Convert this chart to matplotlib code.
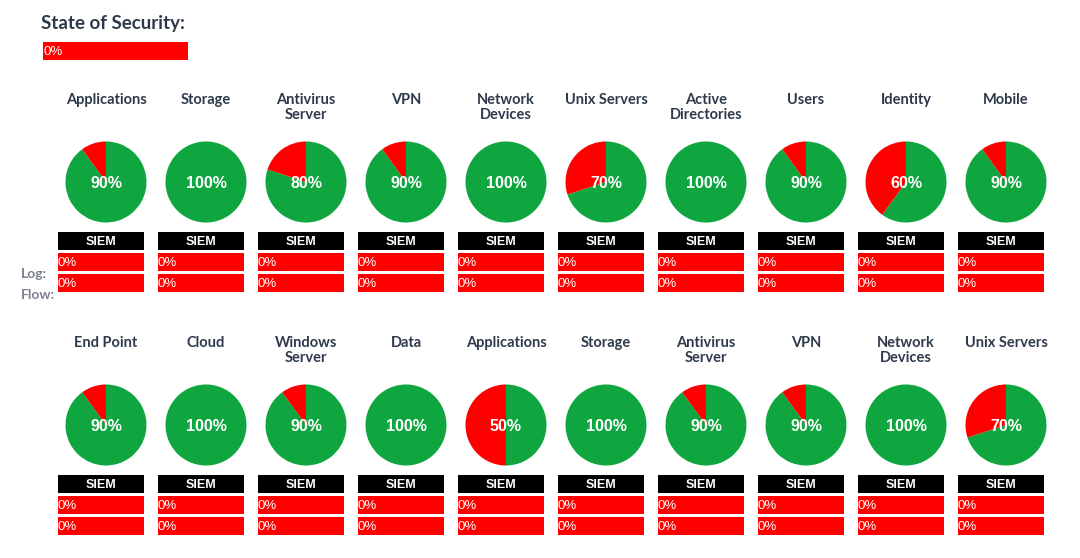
import matplotlib.pyplot as plt

# Datos del tablero
fila1_nombres = ["Applications", "Storage", "Antivirus\nServer", "VPN", "Network\nDevices",
                 "Unix Servers", "Active\nDirectories", "Users", "Identity", "Mobile"]
fila1_valores = [90, 100, 80, 90, 100, 70, 100, 90, 60, 90]
fila2_nombres = ["End Point", "Cloud", "Windows\nServer", "Data", "Applications",
                 "Storage", "Antivirus\nServer", "VPN", "Network\nDevices", "Unix Servers"]
fila2_valores = [90, 100, 90, 100, 50, 100, 90, 90, 100, 70]
log_valores = [0] * 10
flow_valores = [0] * 10
estado_total = 0

VERDE = "#0fa640"
ROJO = "#ff0000"
TXT = "#2e3a4b"
W, H = 1080, 558

fig = plt.figure(figsize=(W / 100, H / 100), dpi=100)
bg = fig.add_axes([0, 0, 1, 1])
bg.set_xlim(0, W)
bg.set_ylim(H, 0)
bg.axis("off")

bg.text(41, 23, "State of Security:", fontsize=13.5, fontweight="bold", color=TXT,
        family="Lato", va="center", ha="left")
bg.barh(51, 145, left=43, height=18, color=ROJO)
bg.text(43, 52, f"{estado_total}%", fontsize=9.5, color="white", family="Liberation Sans",
        va="center", ha="left")

bg.text(21, 274, "Log:", fontsize=10, fontweight="bold", color="#7b8190", family="Lato",
        va="center", ha="left")
bg.text(21, 295, "Flow:", fontsize=10, fontweight="bold", color="#7b8190", family="Lato",
        va="center", ha="left")


def fila(nombres, valores, y_titulo, y_pie, y_siem):
    for i, (nom, val) in enumerate(zip(nombres, valores)):
        cx = 106 + 100 * i
        bg.text(cx, y_titulo, nom, fontsize=10.5, fontweight="bold", color=TXT, family="Lato",
                ha="center", va="top", linespacing=1.12)
        r = 40.5
        pax = fig.add_axes([(cx - r) / W, 1 - (y_pie + r) / H, 2 * r / W, 2 * r / H])
        pax.pie([val, 100 - val], colors=[VERDE, ROJO], startangle=90, counterclock=False,
                wedgeprops=dict(linewidth=0))
        pax.set_xlim(-1, 1)
        pax.set_ylim(-1, 1)
        pax.set_aspect("equal")
        pax.text(0.0, -0.03, f"{val}%", fontsize=11.5, fontweight="bold", color="white",
                 family="Liberation Sans", ha="center", va="center")
        x0 = cx - 48
        bg.barh(y_siem, 86, left=x0, height=18, color="black")
        bg.text(x0 + 43, y_siem + 1, "SIEM", fontsize=9, fontweight="bold", color="white",
                family="Liberation Sans", ha="center", va="center")
        for dy, v in ((21, log_valores[i]), (42, flow_valores[i])):
            bg.barh(y_siem + dy, 86, left=x0, height=18, color=ROJO)
            bg.text(x0, y_siem + dy + 1, f"{v}%", fontsize=9.5, color="white",
                    family="Liberation Sans", ha="left", va="center")


fila(fila1_nombres, fila1_valores, 93, 182, 241)
fila(fila2_nombres, fila2_valores, 336, 425, 484)

fig.savefig("out.png", dpi=100)
